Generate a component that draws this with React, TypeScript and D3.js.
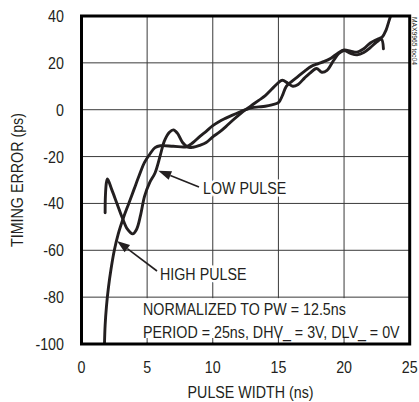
import React, { useRef, useEffect } from 'react';
import * as d3 from 'd3';

// pulse width (ns), timing error (ps)
const highPulse: [number, number][] = [
  [1.75, -100], [1.8, -92], [1.9, -84], [2.05, -76], [2.25, -68], [2.5, -60], [2.8, -53],
  [3.2, -46], [3.6, -40], [4.0, -34], [4.4, -28], [4.8, -22.5], [5.2, -19], [5.6, -16.2],
  [6.0, -15.4], [7.0, -15.6], [8.0, -15.8], [8.5, -14], [9.0, -11.5], [9.5, -9.2],
  [10.0, -6.8], [10.5, -5], [11.0, -3.6], [11.5, -2.3], [12.0, -1.1], [12.5, 0],
  [13.0, 0.9], [13.5, 1.2], [14.0, 1.5], [14.5, 2.1], [15.0, 3], [15.3, 6], [15.6, 10],
  [16.0, 12], [16.5, 14.2], [17.0, 16.5], [17.5, 18.5], [18.0, 19.6], [18.5, 20.6],
  [19.0, 22], [19.5, 24], [20.0, 25.5], [20.5, 25], [21.0, 24.6], [21.5, 26], [22.0, 28.5],
  [22.5, 30], [22.9, 31], [23.2, 34], [23.4, 37.5], [23.6, 41],
];

const lowPulse: [number, number][] = [
  [1.8, -44], [1.82, -37], [1.9, -31], [1.98, -29.5], [2.3, -34], [2.7, -40], [3.1, -46],
  [3.5, -51], [3.9, -53], [4.2, -51], [4.5, -45], [4.8, -37], [5.2, -31], [5.6, -27],
  [6.0, -19.5], [6.3, -13.5], [6.7, -9.6], [7.0, -8.6], [7.3, -10], [7.7, -14], [8.1, -16],
  [8.5, -16], [9.0, -15.2], [9.5, -14], [10.0, -11.6], [10.5, -9.6], [11.0, -7.2],
  [11.5, -4.6], [12.0, -2.2], [12.5, 0], [13.0, 2], [13.5, 4], [14.0, 6], [14.5, 8.8],
  [15.0, 11.6], [15.3, 12.6], [15.7, 11.4], [16.1, 10], [16.5, 10.8], [17.0, 13.6],
  [17.4, 15.6], [17.9, 17.6], [18.3, 16], [18.7, 16.8], [19.2, 21], [19.6, 24], [20.0, 25.3],
  [20.5, 24], [21.0, 23.4], [21.5, 24.4], [22.0, 26.5], [22.5, 29], [22.85, 30], [23.0, 26],
];

const xTicks = [0, 5, 10, 15, 20, 25];
const yTicks = [40, 20, 0, -20, -40, -60, -80, -100];
const noteLines = ['NORMALIZED TO PW = 12.5ns', 'PERIOD = 25ns, DHV_ = 3V, DLV_ = 0V'];

// no condensed face installed: squeeze Liberation Sans horizontally
const FONT = '"Liberation Sans", Arial, sans-serif';
const SQUEEZE = 0.84;

const App: React.FC = () => {
  const svgRef = useRef<SVGSVGElement | null>(null);

  useEffect(() => {
    const width = 419;
    const height = 402;
    const left = 81.5, right = 409.7, top = 16, bottom = 344;

    d3.select(svgRef.current).selectAll('*').remove();
    const svg = d3.select(svgRef.current).attr('width', width).attr('height', height);

    const x = d3.scaleLinear().domain([0, 25]).range([left, right]);
    const y = d3.scaleLinear().domain([-100, 40]).range([bottom, top]);

    svg.append('rect').attr('width', width).attr('height', height).attr('fill', '#fff');

    svg.append('defs').append('clipPath').attr('id', 'plot')
      .append('rect').attr('x', left).attr('y', top).attr('width', right - left).attr('height', bottom - top);

    // grid
    const grid = svg.append('g').attr('stroke', '#3a3a3a').attr('stroke-width', 1);
    grid.selectAll('.gx').data(xTicks.slice(1, -1)).enter().append('line')
      .attr('x1', d => x(d)).attr('x2', d => x(d)).attr('y1', top).attr('y2', bottom);
    grid.selectAll('.gy').data(yTicks.slice(1, -1)).enter().append('line')
      .attr('y1', d => y(d)).attr('y2', d => y(d)).attr('x1', left).attr('x2', right);

    // white box under the notes
    svg.append('rect')
      .attr('x', x(4.6)).attr('y', y(-80) + 1)
      .attr('width', right - x(4.6) - 1.5).attr('height', bottom - y(-80) - 2.5)
      .attr('fill', '#fff');
    svg.append('g').attr('stroke', '#3a3a3a').selectAll('line')
      .data(xTicks.slice(1, -1)).enter().append('line')
      .attr('x1', d => x(d)).attr('x2', d => x(d)).attr('y1', bottom - 6).attr('y2', bottom);

    // curves
    const line = d3.line<[number, number]>()
      .x(d => x(d[0])).y(d => y(d[1]))
      .curve(d3.curveCatmullRom.alpha(0.5));
    const curves = svg.append('g').attr('clip-path', 'url(#plot)');
    [highPulse, lowPulse].forEach(s => {
      curves.append('path').datum(s).attr('d', line)
        .attr('fill', 'none').attr('stroke', '#231f20').attr('stroke-width', 2.9)
        .attr('stroke-linejoin', 'round').attr('stroke-linecap', 'round');
    });

    // frame
    svg.append('rect').attr('x', left).attr('y', top)
      .attr('width', right - left).attr('height', bottom - top)
      .attr('fill', 'none').attr('stroke', '#000').attr('stroke-width', 3);

    const text = (s: string, tx: number, ty: number, anchor = 'start', rot = 0) => svg.append('text').text(s)
      .attr('font-family', FONT).attr('font-size', 17).attr('fill', '#231f20')
      .attr('text-anchor', anchor)
      .attr('transform', `translate(${tx},${ty}) rotate(${rot}) scale(${SQUEEZE},1)`);

    // tick labels
    xTicks.forEach(t => text(String(t), x(t), 373, 'middle'));
    yTicks.forEach(t => text(String(t), 64, y(t) + 6, 'end'));

    text('PULSE WIDTH (ns)', (left + right) / 2 + 5, 398, 'middle');
    text('TIMING ERROR (ps)', 23, (top + bottom) / 2, 'middle', -90);

    // annotations
    const arrow = (x1: number, y1: number, x2: number, y2: number) => {
      const ang = Math.atan2(y2 - y1, x2 - x1);
      const len = 13, half = 4.5;
      const bx = x2 - len * Math.cos(ang), by = y2 - len * Math.sin(ang);
      svg.append('line').attr('x1', x1).attr('y1', y1).attr('x2', bx).attr('y2', by)
        .attr('stroke', '#231f20').attr('stroke-width', 1.6);
      svg.append('path')
        .attr('d', `M${x2},${y2}L${bx + half * Math.sin(ang)},${by - half * Math.cos(ang)}L${bx - half * Math.sin(ang)},${by + half * Math.cos(ang)}Z`)
        .attr('fill', '#231f20');
    };
    arrow(199, 187, x(5.85), y(-26));
    arrow(157, 271, x(2.7), y(-56));

    const label = (s: string, lx: number, ly: number) => text(s, lx, ly)
      .attr('stroke', '#fff').attr('stroke-width', 5).attr('paint-order', 'stroke');
    label('LOW PULSE', 203, 194);
    label('HIGH PULSE', 160, 280);
    noteLines.forEach((s, i) => text(s, 143, 315 + i * 22.5));

    svg.append('text').text('MAX9965 toc04')
      .attr('font-family', FONT).attr('font-size', 7.5).attr('fill', '#231f20')
      .attr('transform', 'translate(411.5,17) rotate(90) scale(0.9,1)');
  }, []);

  return <svg ref={svgRef} style={{ position: 'absolute', left: 0, top: 0 }}></svg>;
};

export default App;
